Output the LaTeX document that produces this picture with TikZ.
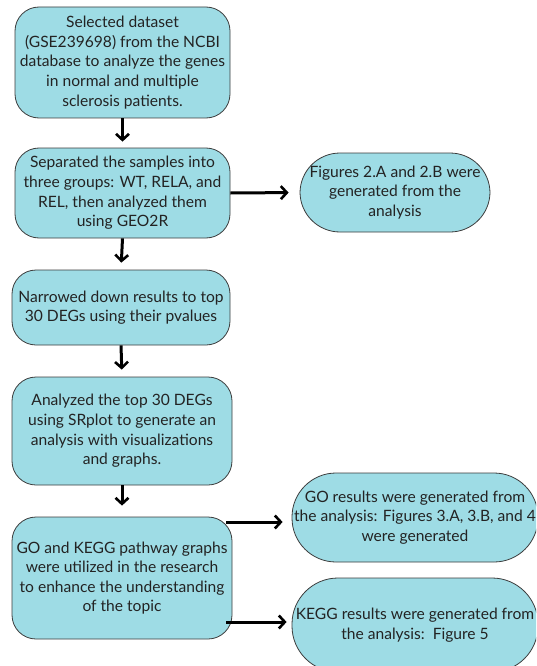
\documentclass[tikz,border=0pt]{standalone}
\usepackage{fontspec}
\setmainfont{Lato}
\usetikzlibrary{arrows.meta}
\definecolor{boxfill}{RGB}{158,220,229}
\definecolor{boxline}{RGB}{60,60,60}
\definecolor{txt}{RGB}{35,35,35}
\tikzset{
  x=1pt,y=-1pt,
  flowbox/.style={draw=boxline,line width=0.8pt,fill=boxfill,rounded corners=24pt,
    align=center,text=txt,inner sep=0pt,font=\fontsize{15.6}{19.6}\selectfont},
  resultbox/.style={flowbox,rounded corners=40pt},
  flowarrow/.style={line width=3pt,-{Straight Barb[length=6pt,width=13pt,line width=2.6pt]}}
}
\begin{document}
\begin{tikzpicture}
\useasboundingbox (0,0) rectangle (536,666);
\clip (0,0) rectangle (536,666);
\node[flowbox,minimum width=215pt,minimum height=111pt] (b1) at (122.5,62.5)
  {Selected dataset\\(GSE239698) from the NCBI\\database to analyze the genes\\in normal and multiple\\sclerosis patients.};
\node[flowbox,minimum width=215pt,minimum height=90pt] (b2) at (122.5,193)
  {Separated the samples into\\three groups: WT, RELA, and\\REL, then analyzed them\\using GEO2R};
\node[resultbox,minimum width=190pt,minimum height=79pt] (b3) at (395,192.5)
  {Figures 2.A and 2.B were\\generated from the\\analysis};
\node[flowbox,minimum width=218pt,minimum height=75pt] (b4) at (121,307.5)
  {Narrowed down results to top\\30 DEGs using their pvalues};
\node[flowbox,minimum width=220pt,minimum height=108pt] (b5) at (122,431)
  {Analyzed the top 30 DEGs\\using SRplot to generate an\\analysis with visualizations\\and graphs.};
\node[flowbox,minimum width=220pt,minimum height=122pt] (b6) at (122,578)
  {GO and KEGG pathway graphs\\were utilized in the research\\to enhance the understanding\\of the topic};
\node[resultbox,minimum width=246pt,minimum height=89pt,rounded corners=44pt] (go) at (415,517.5)
  {GO results were generated from\\the analysis: Figures 3.A, 3.B, and 4\\were generated};
\node[resultbox,minimum width=246pt,minimum height=94pt,rounded corners=46pt] (kegg) at (415,625)
  {KEGG results were generated from\\the analysis:\ \ Figure 5};
\coordinate (s1) at (226,522);
\coordinate (s2) at (226,622);
\draw[flowarrow,shorten >=6pt] (b1.south) -- (b2.north);
\draw[flowarrow,shorten >=7pt] (b2.south) -- (b4.north);
\draw[flowarrow,shorten >=7pt] (b4.south) -- (b5.north);
\draw[flowarrow,shorten >=11pt] (b5.south) -- (b6.north);
\draw[flowarrow,shorten >=11pt] (b2.east) -- (b3.west);
\draw[flowarrow,shorten >=9pt] (s1) -- (s1 -| go.west);
\draw[flowarrow,shorten >=5pt] (s2) -- (s2 -| kegg.west);
\end{tikzpicture}
\end{document}
